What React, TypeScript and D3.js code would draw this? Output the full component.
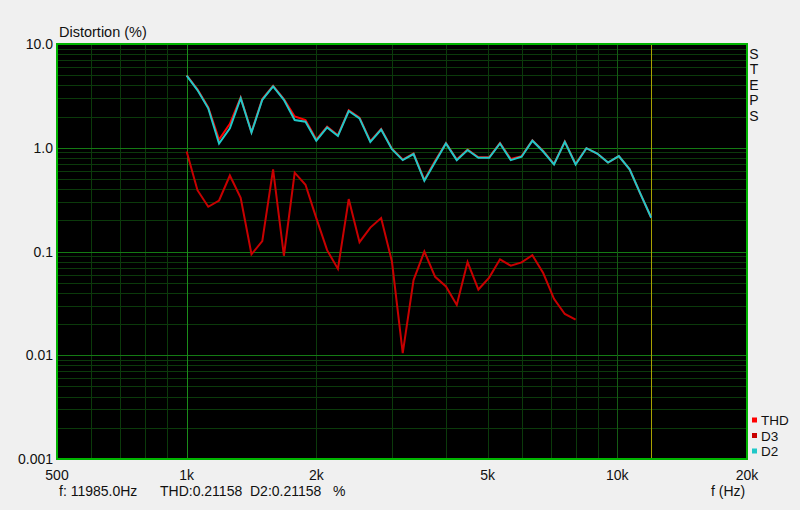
import React from "react";
import * as d3 from "d3";

// semitone steps starting at 1 kHz
const stepIndexD2 = d3.range(0, 44);
const d2Values = [
  4.95, 3.6, 2.4, 1.1, 1.54, 3.0, 1.4, 2.9, 3.9, 2.9,
  1.85, 1.78, 1.17, 1.57, 1.3, 2.26, 1.92, 1.14, 1.5, 0.97,
  0.76, 0.87, 0.48, 0.73, 1.1, 0.76, 0.95, 0.8, 0.8, 1.1,
  0.76, 0.82, 1.17, 0.92, 0.69, 1.14, 0.69, 0.99, 0.88, 0.72,
  0.83, 0.62, 0.36, 0.2116,
];
const thdValues = [
  5.0, 3.65, 2.45, 1.2, 1.7, 3.05, 1.42, 2.95, 3.95, 2.95,
  2.0, 1.85, 1.2, 1.6, 1.32, 2.3, 1.95, 1.16, 1.52, 0.98,
  0.77, 0.88, 0.49, 0.75, 1.11, 0.77, 0.96, 0.81, 0.81, 1.11,
  0.78, 0.83, 1.18, 0.93, 0.7, 1.15, 0.7, 0.99, 0.88, 0.72,
  0.83, 0.62, 0.36, 0.2116,
];
const d3Values = [
  0.92, 0.39, 0.27, 0.31, 0.54, 0.33, 0.094, 0.126, 0.62, 0.091,
  0.575, 0.44, 0.21, 0.103, 0.068, 0.32, 0.123, 0.17, 0.21, 0.08,
  0.0105, 0.053, 0.1, 0.057, 0.046, 0.0305, 0.079, 0.043, 0.056, 0.084,
  0.073, 0.0785, 0.092, 0.062, 0.035, 0.025, 0.022,
];
const baseFreq = 1000;
const yTicks = [10, 1, 0.1, 0.01, 0.001];
const yTickLabels = ["10.0", "1.0", "0.1", "0.01", "0.001"];
const xTicks = [500, 1000, 2000, 5000, 10000, 20000];
const xTickLabels = ["500", "1k", "2k", "5k", "10k", "20k"];
const cursorFreq = 11985;
const legendNames = ["THD", "D3", "D2"];
const legendColors = ["#ff0000", "#c80000", "#20c8c8"];
const statusText = ["f: 11985.0Hz", "THD:0.21158", "D2:0.21158", "%"];
const sideLabel = "STEPS";

const W = 800, H = 510;
const L = 57, R = 747, T = 44, B = 459;
const FONT = "'Liberation Sans', Arial, sans-serif";

export default function App() {
  const x = d3.scaleLog().domain([500, 20000]).range([L, R]);
  const y = d3.scaleLog().domain([0.001, 10]).range([B, T]);

  const freq = (n: number) => baseFreq * Math.pow(2, n / 12);
  const line = d3
    .line<[number, number]>()
    .x((d) => x(d[0]))
    .y((d) => y(d[1]));

  const thdData: [number, number][] = thdValues.map((v, i) => [freq(stepIndexD2[i]), v]);
  const d2Data: [number, number][] = d2Values.map((v, i) => [freq(stepIndexD2[i]), v]);
  const d3Data: [number, number][] = d3Values.map((v, i) => [freq(i), v]);

  const vMinor: number[] = [];
  [100, 1000, 10000].forEach((dec) => {
    for (let k = 1; k <= 9; k++) {
      const f = dec * k;
      if (f > 500 && f < 20000 && f !== 1000 && f !== 10000) vMinor.push(f);
    }
  });
  const hMinor: number[] = [];
  [0.001, 0.01, 0.1, 1].forEach((dec) => {
    for (let k = 2; k <= 9; k++) hMinor.push(dec * k);
  });

  const vx = (f: number) => Math.round(x(f));
  const hy = (v: number) => Math.round(y(v));

  return (
    <svg width={W} height={H} style={{ position: "absolute", left: 0, top: 0 }}>
      <rect x={0} y={0} width={W} height={H} fill="#f0f0f0" />
      <rect x={L} y={T} width={R - L} height={B - T} fill="#000000" />
      {hMinor.map((v) => (
        <rect key={"hm" + v} x={L} width={R - L} y={hy(v)} height={1} fill="#0b3a0b" />
      ))}
      {vMinor.map((f) => (
        <rect key={"vm" + f} y={T} height={B - T} x={vx(f)} width={1} fill="#0b3a0b" />
      ))}
      {yTicks.slice(1, 4).map((v) => (
        <rect key={"hM" + v} x={L} width={R - L} y={hy(v)} height={1} fill="#147a14" />
      ))}
      <rect key="v1k" x={vx(1000)} width={1} y={T} height={B - T} fill="#1a8c1a" />
      <rect key="v10k" x={vx(10000)} width={1} y={T} height={B - T} fill="#145c14" />
      <rect key="vcur" x={vx(cursorFreq)} width={1} y={T} height={B - T} fill="#a8a000" />
      <rect x={L} y={T} width={R - L} height={B - T} fill="none" stroke="#00b400" strokeWidth={2} />

      <path d={line(thdData) || ""} fill="none" stroke={legendColors[0]} strokeWidth={2} />
      <path d={line(d3Data) || ""} fill="none" stroke={legendColors[1]} strokeWidth={2} />
      <path d={line(d2Data) || ""} fill="none" stroke={legendColors[2]} strokeWidth={2} />

      <g fontFamily={FONT} fontSize={14} fill="#111">
        <text x={59} y={37} fontSize={14.5}>Distortion (%)</text>
        {yTicks.map((v, i) => (
          <text key={"yt" + v} x={53} y={y(v) + 5} textAnchor="end">{yTickLabels[i]}</text>
        ))}
        {xTicks.map((f, i) => (
          <text key={"xt" + f} x={x(f)} y={480} textAnchor="middle">{xTickLabels[i]}</text>
        ))}
        <text
          x={754}
          y={46}
          letterSpacing={-0.6}
          style={{ writingMode: "vertical-rl", textOrientation: "upright" } as React.CSSProperties}
        >
          {sideLabel}
        </text>
        {legendNames.map((n, i) => (
          <g key={n}>
            <rect x={752} y={417.5 + i * 15.5} width={5} height={5} fill={legendColors[i]} />
            <text x={761} y={425 + i * 15.5} fontSize={13.5}>{n}</text>
          </g>
        ))}
        <text x={59} y={496}>{statusText[0]}</text>
        <text x={160} y={496}>{statusText[1]}</text>
        <text x={250} y={496}>{statusText[2]}</text>
        <text x={333} y={496}>{statusText[3]}</text>
        <text x={711} y={496}>f (Hz)</text>
      </g>
    </svg>
  );
}
